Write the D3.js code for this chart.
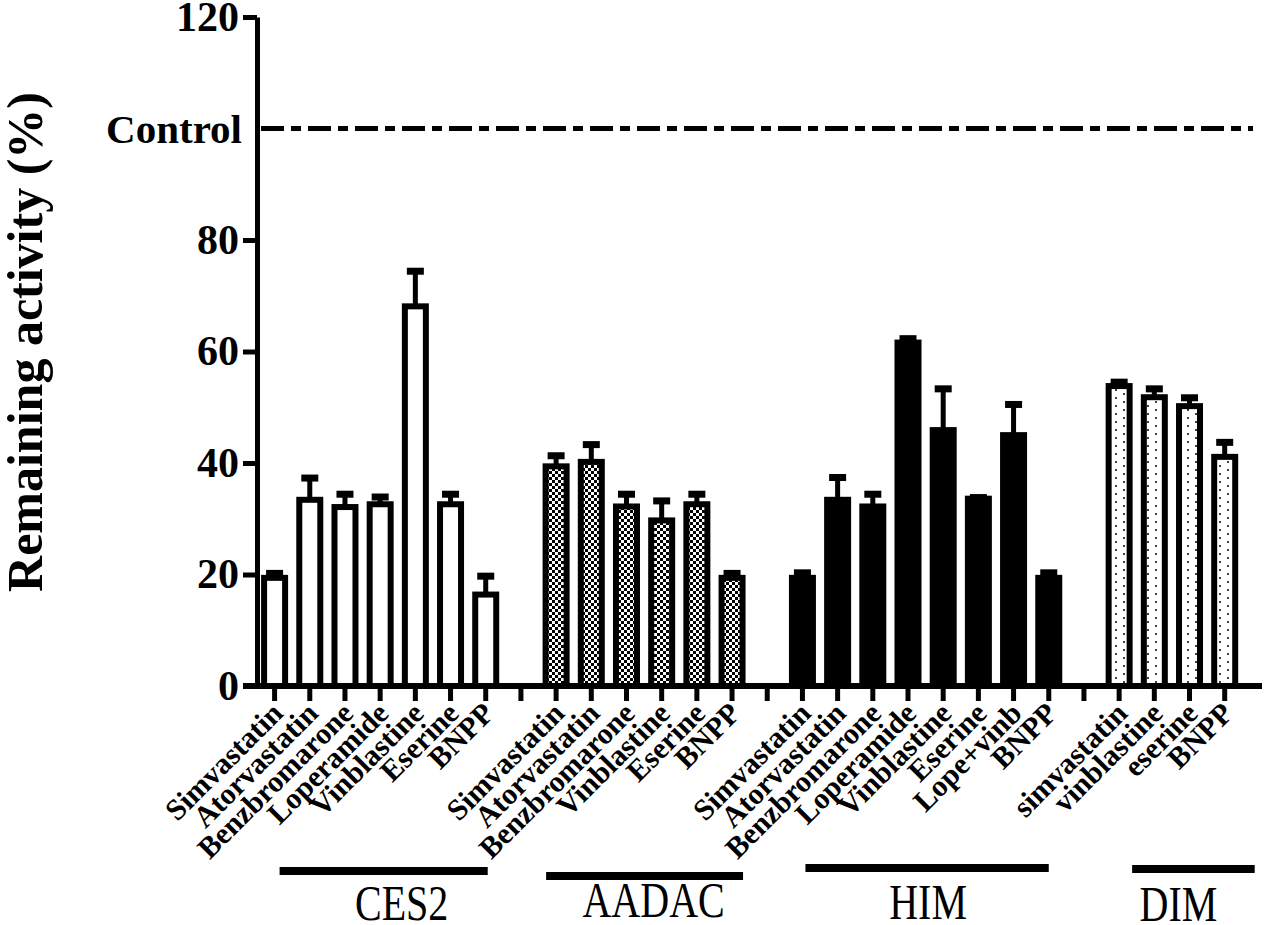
<!DOCTYPE html>
<html>
<head>
<meta charset="utf-8">
<script src="https://cdn.jsdelivr.net/npm/d3@7"></script>
<style>
  body { margin: 0; background: #fff; }
  svg { display: block; }
</style>
</head>
<body>
<div id="chart"></div>
<script>
// data (remaining activity %, mean and upper SEM)
const groups = ["CES2", "AADAC", "HIM", "DIM"];

const ces2Drugs = ["Simvastatin", "Atorvastatin", "Benzbromarone", "Loperamide", "Vinblastine", "Eserine", "BNPP"];
const ces2Values = [19.4, 33.4, 32.1, 32.6, 68.1, 32.6, 16.4];
const ces2Sem = [0.8, 3.9, 2.3, 1.3, 6.3, 1.8, 3.3];

const aadacDrugs = ["Simvastatin", "Atorvastatin", "Benzbromarone", "Vinblastine", "Eserine", "BNPP"];
const aadacValues = [39.4, 40.2, 32.2, 29.7, 32.6, 19.4];
const aadacSem = [1.9, 3.1, 2.2, 3.5, 1.8, 0.8];

const himDrugs = ["Simvastatin", "Atorvastatin", "Benzbromarone", "Loperamide", "Vinblastine", "Eserine", "Lope+vinb", "BNPP"];
const himValues = [19.4, 33.4, 32.2, 61.6, 45.9, 33.6, 45.0, 19.4];
const himSem = [0.9, 4.0, 2.2, 0.7, 7.4, 0.2, 5.5, 0.9];

const dimDrugs = ["simvastatin", "vinblastine", "eserine", "BNPP"];
const dimValues = [53.8, 51.8, 50.2, 41.1];
const dimSem = [0.7, 1.5, 1.5, 2.6];

const yTicks = [0, 20, 40, 60, 80, 120];
const controlValue = 100;
const controlLabel = "Control";
const yTitle = "Remaining activity (%)";

const width = 1267;
const height = 925;
const serif = "'Liberation Serif', 'Times New Roman', Times, serif";

const drugsByGroup = [ces2Drugs, aadacDrugs, himDrugs, dimDrugs];
const valuesByGroup = [ces2Values, aadacValues, himValues, dimValues];
const semByGroup = [ces2Sem, aadacSem, himSem, dimSem];

// one slot per bar, plus an empty slot between groups
const slots = [];
groups.forEach((g, gi) => {
  if (gi > 0) slots.push({key: "gap" + gi, gap: true});
  drugsByGroup[gi].forEach((d, i) => {
    slots.push({key: g + "-" + i, group: g, label: d,
                value: valuesByGroup[gi][i], sem: semByGroup[gi][i]});
  });
});
const bars = slots.filter(s => !s.gap);

const svg = d3.select("#chart").append("svg")
  .attr("width", width)
  .attr("height", height)
  .attr("viewBox", [0, 0, width, height]);

const defs = svg.append("defs");
const checker = defs.append("pattern")
  .attr("id", "checker")
  .attr("patternUnits", "userSpaceOnUse")
  .attr("width", 6).attr("height", 6);
checker.append("rect").attr("width", 6).attr("height", 6).attr("fill", "#fff");
checker.append("rect").attr("width", 3).attr("height", 3).attr("fill", "#000");
checker.append("rect").attr("x", 3).attr("y", 3).attr("width", 3).attr("height", 3).attr("fill", "#000");

const dots = defs.append("pattern")
  .attr("id", "dots")
  .attr("patternUnits", "userSpaceOnUse")
  .attr("width", 16).attr("height", 8);
dots.append("rect").attr("width", 16).attr("height", 8).attr("fill", "#fff");
dots.append("circle").attr("cx", 4).attr("cy", 2).attr("r", 1).attr("fill", "#000");
dots.append("circle").attr("cx", 12).attr("cy", 6).attr("r", 1).attr("fill", "#000");

const fills = {CES2: "#fff", AADAC: "url(#checker)", HIM: "#000", DIM: "url(#dots)"};

const x = d3.scaleBand()
  .domain(slots.map(s => s.key))
  .range([257, 1242.3]);

const y = d3.scaleLinear()
  .domain([0, 120])
  .range([686, 17]);

const bw = x.bandwidth();
const barW = 21;
const capW = 17;

// control line
svg.append("line")
  .attr("x1", x.range()[0])
  .attr("x2", 1253)
  .attr("y1", y(controlValue))
  .attr("y2", y(controlValue))
  .attr("stroke", "#000")
  .attr("stroke-width", 5)
  .attr("stroke-dasharray", "23,7,10,7")
  .attr("stroke-dashoffset", -4);

svg.append("text")
  .attr("x", 242)
  .attr("y", y(controlValue))
  .attr("dy", "0.35em")
  .attr("text-anchor", "end")
  .attr("font-family", serif)
  .attr("font-weight", "bold")
  .attr("font-size", 41)
  .text(controlLabel);

// error bars (upper only, drawn under the bars)
const err = svg.append("g").attr("fill", "#000");
err.selectAll("rect.stem")
  .data(bars)
  .join("rect")
  .attr("class", "stem")
  .attr("x", d => x(d.key) + bw / 2 - 2.5)
  .attr("y", d => y(d.value + d.sem))
  .attr("width", 5)
  .attr("height", d => y(d.value) - y(d.value + d.sem));
err.selectAll("rect.cap")
  .data(bars)
  .join("rect")
  .attr("class", "cap")
  .attr("x", d => x(d.key) + bw / 2 - capW / 2)
  .attr("y", d => y(d.value + d.sem) - 3.5)
  .attr("width", capW)
  .attr("height", 7);

// bars
svg.append("g")
  .attr("stroke", "#000")
  .attr("stroke-width", 6)
  .selectAll("rect")
  .data(bars)
  .join("rect")
  .attr("x", d => x(d.key) + bw / 2 - barW / 2)
  .attr("y", d => y(d.value))
  .attr("width", barW)
  .attr("height", d => y(0) - y(d.value))
  .attr("fill", d => fills[d.group]);

// y axis
const yAxis = svg.append("g")
  .attr("transform", `translate(${x.range()[0]},0)`)
  .call(d3.axisLeft(y).tickValues(yTicks).tickSize(14).tickSizeOuter(0).tickPadding(4));
yAxis.select(".domain").attr("stroke-width", 5);
yAxis.selectAll(".tick line").attr("stroke-width", 5);
yAxis.selectAll(".tick text")
  .attr("font-family", serif)
  .attr("font-weight", "bold")
  .attr("font-size", 42)
  .attr("fill", "#000");

// x axis
const xAxis = svg.append("g")
  .attr("transform", `translate(0,${y(0)})`)
  .call(d3.axisBottom(x).tickSize(15).tickSizeOuter(0).tickFormat(""));
xAxis.select(".domain").remove();
xAxis.selectAll(".tick line").attr("stroke-width", 5);
svg.append("line")
  .attr("x1", 243).attr("x2", 1262)
  .attr("y1", y(0)).attr("y2", y(0))
  .attr("stroke", "#000")
  .attr("stroke-width", 6);

svg.append("g")
  .attr("font-family", serif)
  .attr("font-weight", "bold")
  .attr("font-size", 30)
  .attr("text-anchor", "end")
  .selectAll("text")
  .data(bars)
  .join("text")
  .attr("transform", d => `translate(${x(d.key) + bw / 2 + 10},715) rotate(-45)`)
  .text(d => d.label);

// y title
svg.append("text")
  .attr("transform", `translate(42,342) rotate(-90)`)
  .attr("text-anchor", "middle")
  .attr("font-family", serif)
  .attr("font-weight", "bold")
  .attr("font-size", 50)
  .text(yTitle);

// group brackets under the labels
const bracketShift = [
  {l: 5, r: 2, y: 871, lx: 18, ly: 920},
  {l: -10, r: 11, y: 876, lx: 9, ly: 917},
  {l: 3, r: 0, y: 868, lx: 1, ly: 919},
  {l: 13, r: 30, y: 869, lx: -15, ly: 921}
];
groups.forEach((g, gi) => {
  const gb = bars.filter(b => b.group === g);
  const s = bracketShift[gi];
  const x0 = x(gb[0].key) + bw / 2 + s.l;
  const x1 = x(gb[gb.length - 1].key) + bw / 2 + s.r;
  svg.append("line")
    .attr("x1", x0).attr("x2", x1)
    .attr("y1", s.y).attr("y2", s.y)
    .attr("stroke", "#000")
    .attr("stroke-width", 8);
  const cx = (x0 + x1) / 2 + s.lx;
  svg.append("text")
    .attr("transform", `translate(${cx},${s.ly}) scale(0.8,1)`)
    .attr("text-anchor", "middle")
    .attr("font-family", serif)
    .attr("font-size", 50)
    .text(g);
});
</script>
</body>
</html>
